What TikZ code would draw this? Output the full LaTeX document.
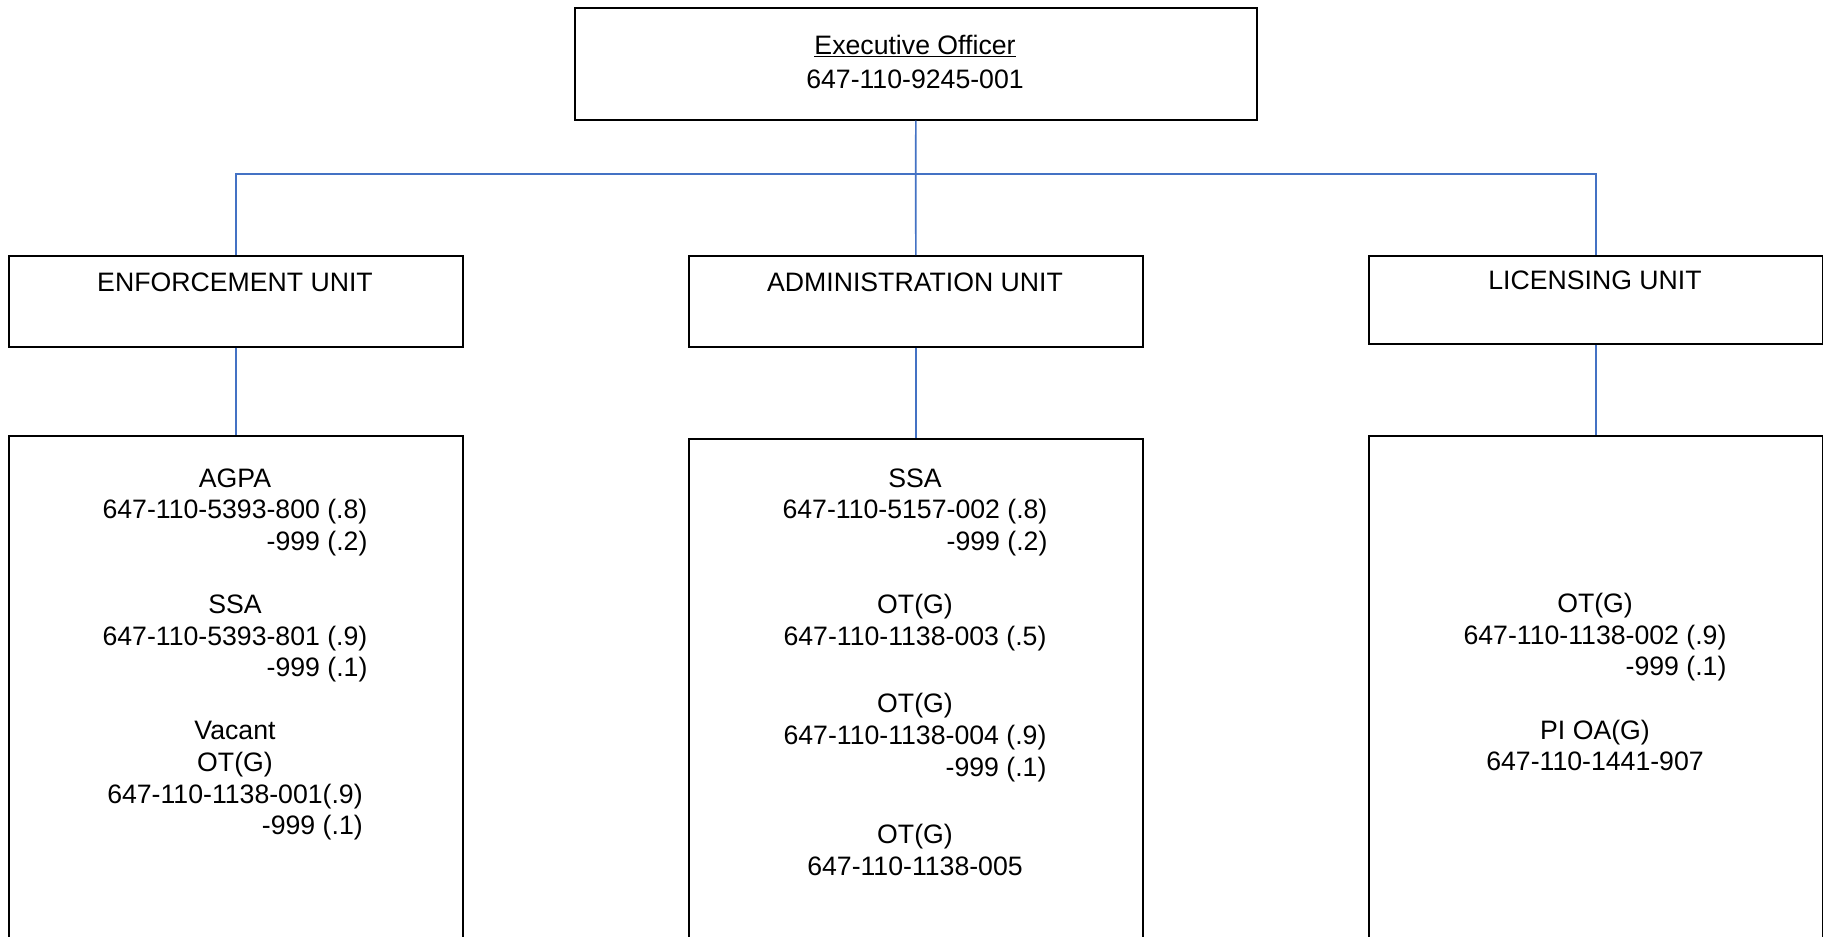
\documentclass[tikz,border=0pt]{standalone}
\usepackage{fontspec}
\setmainfont{Liberation Sans}
\definecolor{conn}{RGB}{68,114,196}
\begin{document}
\begin{tikzpicture}[x=0.75pt,y=-0.75pt,
  box/.style={draw=black,line width=1.2pt,inner sep=0pt,anchor=north west},
  conline/.style={draw=conn,line width=1.2pt},
  lbl/.style={inner sep=0pt,anchor=base,font=\fontsize{20pt}{23.7pt}\selectfont}]
\clip (0,0) rectangle (1823,936);
\fill[white] (0,0) rectangle (1823,936);
% boxes
\node[box,minimum width=511.5pt,minimum height=84pt] (top) at (574,7) {};
\node[box,minimum width=340.5pt,minimum height=68.25pt] (enfu) at (8,255) {};
\node[box,minimum width=340.5pt,minimum height=68.25pt] (admu) at (688,255) {};
\node[box,minimum width=340.5pt,minimum height=66pt] (licu) at (1368,255) {};
\node[box,minimum width=340.5pt,minimum height=400pt] (enfb) at (8,435) {};
\node[box,minimum width=340.5pt,minimum height=400pt] (admb) at (688,438) {};
\node[box,minimum width=340.5pt,minimum height=400pt] (licb) at (1368,435) {};
% connectors
\coordinate (bus) at (915.75,174);
\draw[conline] (top.south) -- (bus);
\draw[conline] (enfu.north) |- (bus) -| (licu.north);
\draw[conline] (bus) -- (admu.north);
\draw[conline] (enfu.south) -- (enfb.north);
\draw[conline] (admu.south) -- (admb.north);
\draw[conline] (licu.south) -- (licb.north);
% texts
\node[lbl] (topt) at (915,54.6) {\begin{tabular}[t]{@{}c@{}}\underline{Executive Officer}\\[1.6pt]647-110-9245-001\end{tabular}};
\node[lbl] (enft) at (235,291.8) {ENFORCEMENT UNIT};
\node[lbl] (admt) at (915,291.8) {ADMINISTRATION UNIT};
\node[lbl] (lict) at (1595,289.5) {LICENSING UNIT};
\node[lbl] (enfbt) at (235,487) {\begin{tabular}[t]{@{}c@{}}
AGPA\\
647-110-5393-800 (.8)\\
\phantom{647-110-5393-800 (.8)}\llap{-999 (.2)}\\
\\
SSA\\
647-110-5393-801 (.9)\\
\phantom{647-110-5393-801 (.9)}\llap{-999 (.1)}\\
\\
Vacant\\
OT(G)\\
647-110-1138-001(.9)\\
\phantom{647-110-1138-001(.9)}\llap{-999 (.1)}
\end{tabular}};
\node[lbl] (admbt) at (915,487) {\begin{tabular}[t]{@{}c@{}}
SSA\\
647-110-5157-002 (.8)\\
\phantom{647-110-5157-002 (.8)}\llap{-999 (.2)}\\
\\
OT(G)\\
647-110-1138-003 (.5)\\[3.5pt]
\\
OT(G)\\
647-110-1138-004 (.9)\\
\phantom{647-110-1138-004 (.9)}\llap{-999 (.1)}\\[3.5pt]
\\
OT(G)\\
647-110-1138-005
\end{tabular}};
\node[lbl] (licbt) at (1595,612.7) {\begin{tabular}[t]{@{}c@{}}
OT(G)\\
647-110-1138-002 (.9)\\
\phantom{647-110-1138-002 (.9)}\llap{-999 (.1)}\\
\\
PI OA(G)\\
647-110-1441-907
\end{tabular}};
\end{tikzpicture}
\end{document}
